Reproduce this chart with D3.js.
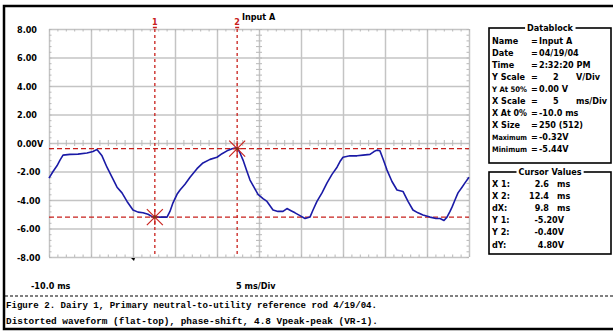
<!DOCTYPE html>
<html><head><meta charset="utf-8">
<script src="https://cdn.jsdelivr.net/npm/d3@7"></script>
<style>
html,body{margin:0;padding:0;background:#fff;}
svg{display:block;}
.lbl{font-family:"DejaVu Sans Condensed","Liberation Sans Narrow","Arial Narrow",sans-serif;font-weight:bold;font-size:9px;fill:#000;}
.cap{font-family:"Liberation Mono","DejaVu Sans Mono",monospace;font-weight:bold;font-size:9px;fill:#000;}
</style></head>
<body>
<script>
// ---- data ----
const timeMs = [-10.0,-9.52,-9.05,-8.69,-8.33,-7.50,-6.55,-5.48,-4.76,-4.29,-3.69,-3.10,-2.50,-1.90,-1.31,-0.71,0.0,0.60,1.19,1.79,2.38,3.21,4.05,4.40,4.76,5.24,5.60,6.19,6.79,7.62,8.33,9.17,10.0,10.6,11.19,11.79,12.38,12.74,13.1,13.57,13.93,14.4,14.88,15.48,15.95,16.31,16.67,17.26,17.86,18.33,18.81,19.29,19.88,20.48,21.07,21.43,21.9,22.5,23.1,23.69,24.29,24.64,25.0,25.83,26.67,27.38,28.21,28.69,29.05,29.4,29.76,30.24,30.83,31.43,32.14,32.74,33.33,33.93,34.52,35.36,36.07,36.55,37.02,37.38,37.74,37.98,38.33,38.69,39.17,39.52,40.0];
const volts = [-2.46,-2.0,-1.6,-1.2,-0.85,-0.8,-0.78,-0.7,-0.6,-0.45,-0.9,-1.7,-2.4,-3.1,-3.5,-4.1,-4.7,-4.85,-4.9,-5.0,-5.2,-5.2,-5.2,-4.8,-4.2,-3.6,-3.3,-2.9,-2.4,-1.8,-1.4,-1.15,-1.0,-0.75,-0.55,-0.4,-0.32,-0.7,-1.2,-2.0,-2.6,-3.1,-3.6,-3.9,-4.1,-4.4,-4.7,-4.8,-4.8,-4.6,-4.75,-4.9,-5.1,-5.3,-5.2,-4.7,-4.1,-3.5,-2.8,-2.2,-1.7,-1.3,-1.0,-0.9,-0.9,-0.85,-0.8,-0.6,-0.5,-0.55,-1.1,-1.9,-2.7,-3.3,-3.4,-4.1,-4.7,-4.9,-5.05,-5.2,-5.3,-5.3,-5.44,-5.2,-4.8,-4.5,-4.0,-3.5,-3.1,-2.8,-2.4];
const xTicks = [-10,-5,0,5,10,15,20,25,30,35,40];
const yTicks = [8,6,4,2,0,-2,-4,-6,-8];
const yTickLabels = ["8.00","6.00","4.00","2.00","0.00V","-2.00","-4.00","-6.00","-8.00"];
const xAxisLabels = ["-10.0 ms","5 ms/Div"];
const cursorNames = ["1","2"];
const cursorX = [2.6,12.4];
const cursorY = [-5.20,-0.40];
const traceName = "Input A";
const dbTitle = "Datablock";
const dbLabels = ["Name","Date","Time","Y Scale","Y At 50%","X Scale","X At 0%","X Size","Maximum","Minimum"];
const dbValues = ["Input A","04/19/04","2:32:20 PM","2","0.00 V","5","-10.0 ms","250 (512)","-0.32V","-5.44V"];
const dbUnits = ["","","","V/Div","","ms/Div","","","",""];
const cvTitle = "Cursor Values";
const cvLabels = ["X 1:","X 2:","dX:","Y 1:","Y 2:","dY:"];
const cvValues = ["2.6","12.4","9.8","-5.20V","-0.40V","4.80V"];
const cvUnits = ["ms","ms","ms","","",""];
const captionLines = ["Figure 2. Dairy 1, Primary neutral-to-utility reference rod 4/19/04.",
  "Distorted waveform (flat-top), phase-shift, 4.8 Vpeak-peak (VR-1)."];

// ---- layout ----
const W=613,H=333;
const L=49,R=469,T=29,B=257;
const x=d3.scaleLinear().domain([-10,40]).range([L,R]);
const y=d3.scaleLinear().domain([-8,8]).range([B,T]);
const svg=d3.select("body").append("svg").attr("width",W).attr("height",H);
svg.append("rect").attr("width",W).attr("height",H).attr("fill","#fff");

function fit(sel,maxW){const n=sel.node();const w=n.getComputedTextLength();if(w>maxW){sel.style("font-size",(9*maxW/w).toFixed(2)+"px");}return sel;}

const gridCol="#c4c4c4";
const g=svg.append("g");
g.append("g").attr("transform",`translate(0,${B})`)
 .call(d3.axisBottom(x).tickValues(xTicks).tickSize(-(B-T)).tickFormat(""))
 .call(s=>{s.select(".domain").remove();s.selectAll("line").attr("stroke",gridCol).attr("stroke-width",1.5);});
g.append("g").attr("transform",`translate(${L},0)`)
 .call(d3.axisLeft(y).tickValues(yTicks).tickSize(-(R-L)).tickFormat(""))
 .call(s=>{s.select(".domain").remove();s.selectAll("line").attr("stroke",gridCol).attr("stroke-width",1.5);});
const xMinor=d3.range(-10,40.01,1), yMinor=d3.range(-8,8.01,0.4);
function minor(sel){sel.select(".domain").remove();sel.selectAll("line").attr("stroke","#b8b8b8").attr("stroke-width",1);}
g.append("g").attr("transform",`translate(0,${T})`).call(d3.axisTop(x).tickValues(xMinor).tickSize(-2.5).tickFormat("")).call(minor);
g.append("g").attr("transform",`translate(0,${B})`).call(d3.axisBottom(x).tickValues(xMinor).tickSize(-2.5).tickFormat("")).call(minor);
g.append("g").attr("transform",`translate(${L},0)`).call(d3.axisLeft(y).tickValues(yMinor).tickSize(-2.5).tickFormat("")).call(minor);
g.append("g").attr("transform",`translate(${R},0)`).call(d3.axisRight(y).tickValues(yMinor).tickSize(-2.5).tickFormat("")).call(minor);
g.append("g").attr("transform",`translate(${x(15)},0)`).call(d3.axisLeft(y).tickValues(yMinor).tickSize(3).tickFormat("")).call(minor);
g.append("g").attr("transform",`translate(${x(15)},0)`).call(d3.axisRight(y).tickValues(yMinor).tickSize(3).tickFormat("")).call(minor);
g.append("g").attr("transform",`translate(0,${y(0)})`).call(d3.axisTop(x).tickValues(xMinor).tickSize(3).tickFormat("")).call(minor);
g.append("g").attr("transform",`translate(0,${y(0)})`).call(d3.axisBottom(x).tickValues(xMinor).tickSize(3).tickFormat("")).call(minor);

svg.append("g").selectAll("text").data(yTicks).join("text").attr("class","lbl")
 .attr("x",17).attr("y",d=>y(d)+3.5).text((d,i)=>yTickLabels[i]);
svg.append("text").attr("class","lbl").attr("x",31).attr("y",289).text(xAxisLabels[0]);
svg.append("text").attr("class","lbl").attr("x",236).attr("y",289).text(xAxisLabels[1]);

const red="#c8201c";
cursorX.forEach((cx,i)=>{
  svg.append("line").attr("x1",x(cx)).attr("x2",x(cx)).attr("y1",T).attr("y2",B)
    .attr("stroke",red).attr("stroke-width",1.3).attr("stroke-dasharray","3,3");
  svg.append("text").attr("class","lbl").attr("x",x(cx)).attr("y",25).attr("text-anchor","middle")
    .style("fill",red).text(cursorNames[i]);
  svg.append("line").attr("x1",x(cx)-2).attr("x2",x(cx)+2).attr("y1",27.5).attr("y2",27.5).attr("stroke",red).attr("stroke-width",1.5);
});
cursorY.forEach(cy=>{
  svg.append("line").attr("x1",L).attr("x2",R).attr("y1",y(cy)).attr("y2",y(cy))
    .attr("stroke",red).attr("stroke-width",1.3).attr("stroke-dasharray","5,3");
});
svg.append("text").attr("class","lbl").attr("x",242).attr("y",20).text(traceName);

const line=d3.line().x((d,i)=>x(timeMs[i])).y(d=>y(d));
svg.append("path").datum(volts).attr("d",line).attr("fill","none")
 .attr("stroke","#1a1aa6").attr("stroke-width",1.6).attr("stroke-linejoin","round");

cursorX.forEach((cx,i)=>{
  const px=x(cx),py=y(cursorY[i]),r=8;
  const m=svg.append("g").attr("transform",`translate(${px},${py})`);
  [[-r,-r,r,r],[-r,r,r,-r],[0,-r,0,r],[-r*0.5,0,r*0.5,0]].forEach(a=>
    m.append("line").attr("x1",a[0]).attr("y1",a[1]).attr("x2",a[2]).attr("y2",a[3]).attr("stroke",red).attr("stroke-width",1.2));
  m.append("circle").attr("r",1.5).attr("fill","#7a3a10");
});

svg.append("path").attr("d",`M${x(0)-2},${B+1}L${x(0)+2},${B+1}L${x(0)+1},${B+4}Z`).attr("fill","#000");

const bx=489,bw=122;
function boxTitle(t,yy){
  const bg=svg.append("rect").attr("fill","#fff");
  const tt=svg.append("text").attr("class","lbl").attr("x",bx+bw/2).attr("y",yy+3).attr("text-anchor","middle").text(t);
  const bb=tt.node().getBBox();
  bg.attr("x",bb.x-2).attr("y",yy-2).attr("width",bb.width+4).attr("height",4);
}
svg.append("rect").attr("x",bx).attr("y",28).attr("width",bw).attr("height",135).attr("fill","none").attr("stroke","#000").attr("stroke-width",1.6);
boxTitle(dbTitle,28);
dbLabels.forEach((l,i)=>{
  const yy=43.5+i*12;
  fit(svg.append("text").attr("class","lbl").attr("x",492).attr("y",yy).text(l),35);
  svg.append("text").attr("class","lbl").attr("x",531).attr("y",yy).text("=");
  fit(svg.append("text").attr("class","lbl").attr("x",dbUnits[i]?553:539).attr("y",yy).text(dbValues[i]),68);
  if(dbUnits[i]) fit(svg.append("text").attr("class","lbl").attr("x",576).attr("y",yy).text(dbUnits[i]),32);
});
svg.append("rect").attr("x",bx).attr("y",172).attr("width",bw).attr("height",82).attr("fill","none").attr("stroke","#000").attr("stroke-width",1.6);
boxTitle(cvTitle,172);
cvLabels.forEach((l,i)=>{
  const yy=186.5+i*12.2;
  svg.append("text").attr("class","lbl").attr("x",492).attr("y",yy).text(l);
  svg.append("text").attr("class","lbl").attr("x",cvUnits[i]?549:564).attr("y",yy).attr("text-anchor","end").text(cvValues[i]);
  if(cvUnits[i]) svg.append("text").attr("class","lbl").attr("x",557).attr("y",yy).text(cvUnits[i]);
});

svg.append("line").attr("x1",5).attr("x2",613).attr("y1",296).attr("y2",296).attr("stroke","#000").attr("stroke-width",1).attr("stroke-dasharray","3,2");
svg.append("text").attr("class","cap").attr("x",6).attr("y",308).attr("textLength",371).attr("lengthAdjust","spacingAndGlyphs").text(captionLines[0]);
svg.append("text").attr("class","cap").attr("x",6).attr("y",324).attr("textLength",372).attr("lengthAdjust","spacingAndGlyphs").text(captionLines[1]);

svg.append("path").attr("d","M620,6H4V329H620").attr("fill","none").attr("stroke","#000").attr("stroke-width",2.5);
</script>
</body></html>
